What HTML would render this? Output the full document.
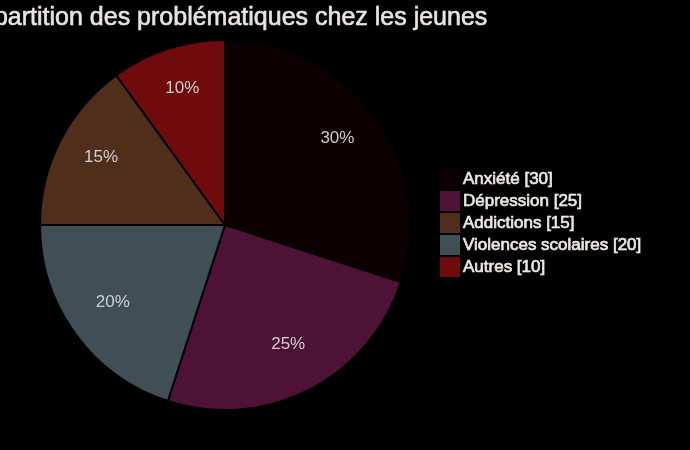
<!DOCTYPE html>
<html><head><meta charset="utf-8">
<style>
html,body{margin:0;padding:0;background:#000;}
body{width:690px;height:450px;overflow:hidden;}
svg{display:block;will-change:transform;}
text{font-family:"Liberation Sans",sans-serif;}
</style></head><body>
<svg width="690" height="450" viewBox="0 0 690 450">
<rect width="690" height="450" fill="#000"/>
<text x="-38" y="24.5" font-size="25" fill="#e8e4df" stroke="#e8e4df" stroke-width="0.6">Répartition des problématiques chez les jeunes</text>
<g stroke="#000" stroke-width="2">
<path d="M225 225L225.00 40.00A185 185 0 0 1 400.95 282.17Z" fill="#0c0001"/>
<path d="M225 225L400.95 282.17A185 185 0 0 1 167.83 400.95Z" fill="#4d1235"/>
<path d="M225 225L167.83 400.95A185 185 0 0 1 40.00 225.00Z" fill="#3f4f55"/>
<path d="M225 225L40.00 225.00A185 185 0 0 1 116.26 75.33Z" fill="#4f2f1b"/>
<path d="M225 225L116.26 75.33A185 185 0 0 1 225.00 40.00Z" fill="#6f0b0c"/>
</g>
<g font-size="17" fill="#cfcfcf" text-anchor="middle">
<text x="337.4" y="142.7">30%</text>
<text x="288.2" y="348.9">25%</text>
<text x="112.8" y="306.9">20%</text>
<text x="101.1" y="161.9">15%</text>
<text x="182.3" y="92.7">10%</text>
</g>
<g>
<rect x="440" y="169" width="20" height="20" fill="#0c0001"/>
<rect x="440" y="191" width="20" height="20" fill="#4d1235"/>
<rect x="440" y="213" width="20" height="20" fill="#4f2f1b"/>
<rect x="440" y="235" width="20" height="20" fill="#3f4f55"/>
<rect x="440" y="257" width="20" height="20" fill="#6f0b0c"/>
</g>
<g font-size="17" fill="#ebe7e2" stroke="#ebe7e2" stroke-width="0.7">
<text transform="translate(463 183.6) scale(1 0.95)">Anxiété [30]</text>
<text transform="translate(463 205.6) scale(1 0.95)">Dépression [25]</text>
<text transform="translate(463 227.6) scale(1 0.95)">Addictions [15]</text>
<text transform="translate(463 249.6) scale(1 0.95)">Violences scolaires [20]</text>
<text transform="translate(463 271.6) scale(1 0.95)">Autres [10]</text>
</g>
</svg>
</body></html>
